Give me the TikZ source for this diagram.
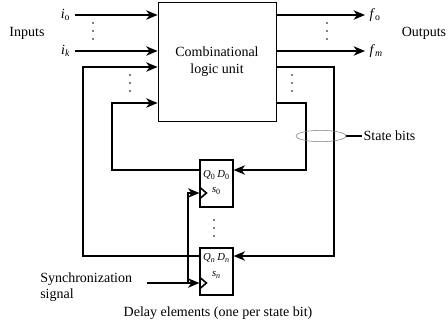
\documentclass[tikz,border=0pt]{standalone}
\usepackage{fontspec}
\setmainfont{Liberation Serif}
\usetikzlibrary{arrows.meta,shapes.geometric}

\tikzset{
  sig/.style={line width=1.3pt, -{Stealth[length=8.5pt,width=7pt,inset=2.5pt]}},
  wire/.style={line width=1.2pt},
  unitbox/.style={draw, semithick, minimum width=88.5pt, minimum height=89.25pt, align=center},
  delaybox/.style={draw, line width=0.9pt, minimum width=24.75pt, minimum height=35.25pt},
  boxlbl/.style={font=\fontsize{8}{9}\selectfont, inner sep=0pt},
  clk/.style={line width=1.2pt}
}

\begin{document}
\begin{tikzpicture}[x=0.75pt, y=-0.75pt, font=\fontsize{10.5}{12.5}\selectfont]
\useasboundingbox (0,0) rectangle (448,322);

% Combinational logic unit and delay elements
\node[unitbox] (clu) at (217,61.5) {Combinational\\logic unit};
\node[delaybox] (d0) at (216.5,183.5) {};
\node[delaybox] (dn) at (216.5,271.5) {};
\node[boxlbl] at (216.5,175) {\textit{Q}\textsubscript{0}\,\textit{D}\textsubscript{0}};
\node[boxlbl] at (216.5,191) {\textit{s}\textsubscript{0}};
\node[boxlbl] at (216.5,258) {\textit{Q}\textsubscript{\textit{n}}\,\textit{D}\textsubscript{\textit{n}}};
\node[boxlbl] at (216.5,275) {\textit{s}\textsubscript{\textit{n}}};

% Inputs
\coordinate (in0) at (75,15);
\coordinate (ink) at (75,51);
\draw[sig] (in0) -- (in0 -| clu.west);
\draw[sig] (ink) -- (ink -| clu.west);
\node[left] at (in0) {\textit{i}\textsubscript{o}};
\node[left] at (ink) {\textit{i}\textsubscript{\textit{k}}};
\node (inlbl) at (27,33) {Inputs};

% Outputs
\coordinate (out0) at (365,15);
\coordinate (outm) at (365,51);
\draw[sig] (out0 -| clu.east) -- (out0);
\draw[sig] (outm -| clu.east) -- (outm);
\node[right] at (out0) {\textit{f}\textsubscript{o}};
\node[right] at (outm) {\textit{f}\textsubscript{\textit{m}}};
\node (outlbl) at (424,33) {Outputs};

% Feedback from the delay elements (Q side)
\coordinate (fo1) at (83,256);
\coordinate (fo2) at (83,67);
\coordinate (fi1) at (112,170);
\coordinate (fi2) at (112,103);
\draw[sig] (fo1 -| dn.west) -- (fo1) -- (fo2) -- (fo2 -| clu.west);
\draw[sig] (fi1 -| d0.west) -- (fi1) -- (fi2) -- (fi2 -| clu.west);

% State bits into the delay elements (D side)
\coordinate (ro1) at (334,67);
\coordinate (ro2) at (334,256);
\coordinate (ri1) at (306,103);
\coordinate (ri2) at (306,170);
\draw[sig] (ro1 -| clu.east) -- (ro1) -- (ro2) -- (ro2 -| dn.east);
\draw[sig] (ri1 -| clu.east) -- (ri1) -- (ri2) -- (ri2 -| d0.east);

% State bits marker
\node[draw=gray, ellipse, thin, minimum width=37.5pt, minimum height=8.5pt, inner sep=0pt] (sb) at (321,136) {};
\node[right, inner sep=1pt] (sblbl) at (362,136) {State bits};
\draw[wire] (sb.east) -- (sblbl.west);

% Dots
\foreach \px/\py in {93/23, 93/31, 93/39, 130/75, 130/83, 130/91,
                     292/75, 292/83, 292/91, 327/23, 327/31, 327/39,
                     214/220, 214/228, 214/236}
  \fill (\px,\py) circle (0.7pt);

% Synchronization signal
\coordinate (sync) at (147,283);
\coordinate (sv1) at (188,283);
\coordinate (sv0) at (188,193);
\node[align=left, anchor=west, inner sep=0pt] (synclbl) at (40,287) {Synchronization\\signal};
\draw[sig] (sync) -- (sync -| dn.west);
\draw[sig] (sv1) -- (sv0) -- (sv0 -| d0.west);

% Clock marks
\draw[clk] (d0.west |- sv0) ++(0,-6) -- ++(7,6) -- ++(-7,6);
\draw[clk] (dn.west |- sync) ++(0,-6) -- ++(7,6) -- ++(-7,6);

\node (dlbl) at (218,313) {Delay elements (one per state bit)};
\end{tikzpicture}
\end{document}
